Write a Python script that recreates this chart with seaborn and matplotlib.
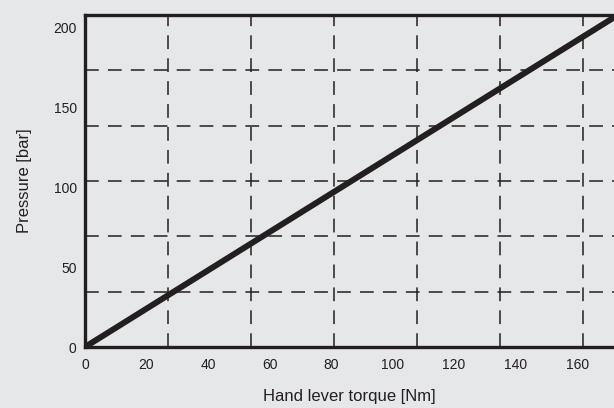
import matplotlib
matplotlib.use("Agg")
import matplotlib.pyplot as plt
import seaborn as sns
import pandas as pd

# ------------------ Data ------------------
torque = [0, 172]          # Hand lever torque [Nm]
pressure = [0, 206]        # Pressure [bar]
x_ticks = [0, 20, 40, 60, 80, 100, 120, 140, 160]
y_ticks = [0, 50, 100, 150, 200]
x_grid = [27, 54, 81, 108, 135, 162]
y_grid = [34.6, 69.2, 103.8, 138.4, 173]

bg = "#e6e7e8"
ink = "#231f20"

sns.set_style("white")
plt.rcParams['font.family'] = ['Liberation Sans', 'DejaVu Sans']

fig = plt.figure(figsize=(6.14, 4.08), dpi=100, facecolor=bg)
ax = fig.add_axes([0.1384, 0.1495, 0.8616, 0.8137])
ax.set_facecolor(bg)

df = pd.DataFrame({"torque": torque, "pressure": pressure})
sns.lineplot(data=df, x="torque", y="pressure", ax=ax, color=ink,
             linewidth=4.3, solid_capstyle="butt", zorder=3)

ax.set_xlim(0, 172)
ax.set_ylim(0, 207.5)

# labelled ticks
ax.set_xticks(x_ticks)
ax.set_yticks(y_ticks)
# dashed grid sits on its own (minor) positions
ax.set_xticks(x_grid, minor=True)
ax.set_yticks(y_grid, minor=True)
ax.grid(False)
ax.grid(which="minor", color=ink, linestyle=(0, (9, 6)), linewidth=1.1)
ax.tick_params(which="both", length=0)
ax.tick_params(axis="x", pad=8, labelsize=10, colors=ink)
ax.tick_params(axis="y", pad=6, labelsize=10, colors=ink)

for side in ["left", "top", "bottom"]:
    ax.spines[side].set_visible(True)
    ax.spines[side].set_color(ink)
    ax.spines[side].set_linewidth(2.4)
ax.spines["right"].set_visible(False)

ax.set_xlabel("Hand lever torque [Nm]", fontsize=12, color=ink, labelpad=12)
ax.set_ylabel("Pressure [bar]", fontsize=12, color=ink, labelpad=15)

fig.savefig("out.png", dpi=100, facecolor=bg)
